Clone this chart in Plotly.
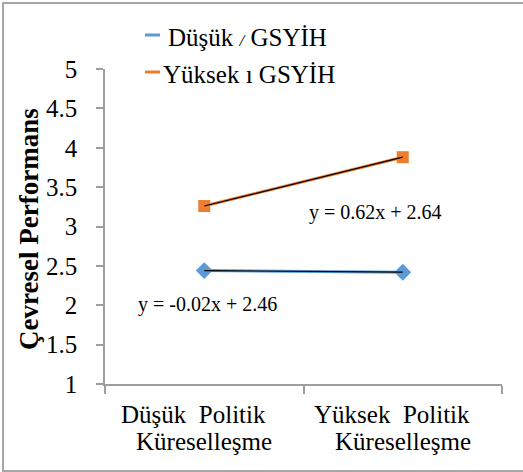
import plotly.graph_objects as go

cat_line1 = ["Düşük  Politik", "Yüksek  Politik"]
cat_line2 = ["Küreselleşme", "Küreselleşme"]
categories = ["Düşük Politik Küreselleşme", "Yüksek Politik Küreselleşme"]
low_gdp = [2.44, 2.42]
high_gdp = [3.26, 3.88]
series_names = ["Düşük / GSYİH", "Yüksek ı GSYİH"]
eq_low = "y = -0.02x + 2.46"
eq_high = "y = 0.62x + 2.64"
y_ticks = [1, 1.5, 2, 2.5, 3, 3.5, 4, 4.5, 5]
y_title = "Çevresel Performans"

BLUE = "#5B9BD5"
ORANGE = "#ED7D31"
FONT = "Liberation Serif"
W, H = 523, 472
L, R, T, B = 105, 21, 69, 88
pw, ph = W - L - R, H - T - B

def px(x):
    return (x - L) / pw

def py(y):
    return (H - B - y) / ph

fig = go.Figure()
fig.add_trace(go.Scatter(x=categories, y=low_gdp, mode="lines+markers",
                         line=dict(color=BLUE, width=3),
                         marker=dict(symbol="diamond", size=13, color=BLUE),
                         name=series_names[0], showlegend=False))
fig.add_trace(go.Scatter(x=categories, y=high_gdp, mode="lines+markers",
                         line=dict(color=ORANGE, width=3),
                         marker=dict(symbol="square", size=12, color=ORANGE),
                         name=series_names[1], showlegend=False))
# trendlines
fig.add_trace(go.Scatter(x=categories, y=low_gdp, mode="lines",
                         line=dict(color="black", width=1.2), showlegend=False, hoverinfo="skip"))
fig.add_trace(go.Scatter(x=categories, y=high_gdp, mode="lines",
                         line=dict(color="black", width=1.2), showlegend=False, hoverinfo="skip"))

shapes = [
    dict(type="rect", xref="paper", yref="paper",
         x0=px(3), x1=px(540), y0=py(471), y1=py(3),
         line=dict(color="#A6A6A6", width=2), fillcolor="rgba(0,0,0,0)"),
    dict(type="line", xref="paper", yref="paper", x0=px(145), x1=px(160), y0=py(35), y1=py(35),
         line=dict(color=BLUE, width=3)),
    dict(type="line", xref="paper", yref="paper", x0=px(145), x1=px(160), y0=py(72), y1=py(72),
         line=dict(color=ORANGE, width=3)),
]

leg0 = series_names[0].replace("/", "<i><span style='font-size:17px'>/</span></i>")
annotations = [
    dict(text=leg0, xref="paper", yref="paper", x=px(166), y=py(38),
         xanchor="left", yanchor="middle", showarrow=False, font=dict(family=FONT, size=25, color="black")),
    dict(text=series_names[1], xref="paper", yref="paper", x=px(161), y=py(74),
         xanchor="left", yanchor="middle", showarrow=False, font=dict(family=FONT, size=25, color="black")),
    dict(text=eq_high, xref="paper", yref="paper", x=px(375), y=py(212),
         xanchor="center", yanchor="middle", showarrow=False, font=dict(family=FONT, size=20, color="black")),
    dict(text=eq_low, xref="paper", yref="paper", x=px(207), y=py(304),
         xanchor="center", yanchor="middle", showarrow=False, font=dict(family=FONT, size=20, color="black")),
    dict(text="<b>" + y_title + "</b>", xref="paper", yref="paper", x=px(29), y=py(229),
         xanchor="center", yanchor="middle", textangle=-90, showarrow=False,
         font=dict(family=FONT, size=27, color="black")),
]
for c, l1, l2 in zip(categories, cat_line1, cat_line2):
    annotations.append(dict(text=l1, xref="x", yref="paper", x=c, y=py(414), xshift=-11,
                            xanchor="center", yanchor="middle", showarrow=False,
                            font=dict(family=FONT, size=25, color="black")))
    annotations.append(dict(text=l2, xref="x", yref="paper", x=c, y=py(441),
                            xanchor="center", yanchor="middle", showarrow=False,
                            font=dict(family=FONT, size=25, color="black")))

fig.update_layout(
    width=W, height=H,
    margin=dict(l=L, r=R, t=T, b=B),
    paper_bgcolor="white", plot_bgcolor="white",
    font=dict(family=FONT, size=24, color="black"),
    shapes=shapes, annotations=annotations,
    showlegend=False,
)
fig.update_xaxes(type="category", range=[-0.5, 1.5], showgrid=False, showline=True,
                 linecolor="#9E9E9E", linewidth=1.5, ticks="outside", tickson="boundaries",
                 ticklen=8, tickcolor="#9E9E9E", tickwidth=1.5, showticklabels=False,
                 fixedrange=True)
fig.update_yaxes(range=[1, 5], tickvals=y_ticks, ticktext=[f"{v:g}" for v in y_ticks],
                 showgrid=False, showline=True, zeroline=False,
                 linecolor="#9E9E9E", linewidth=1.5, ticks="outside", ticklen=7,
                 tickcolor="#9E9E9E", tickwidth=1.5, ticklabelstandoff=14,
                 tickfont=dict(family=FONT, size=25, color="black"), fixedrange=True)

fig.write_html("out.html", config={"displayModeBar": False},
               post_script="document.body.style.margin='0';document.body.style.overflow='hidden';")
